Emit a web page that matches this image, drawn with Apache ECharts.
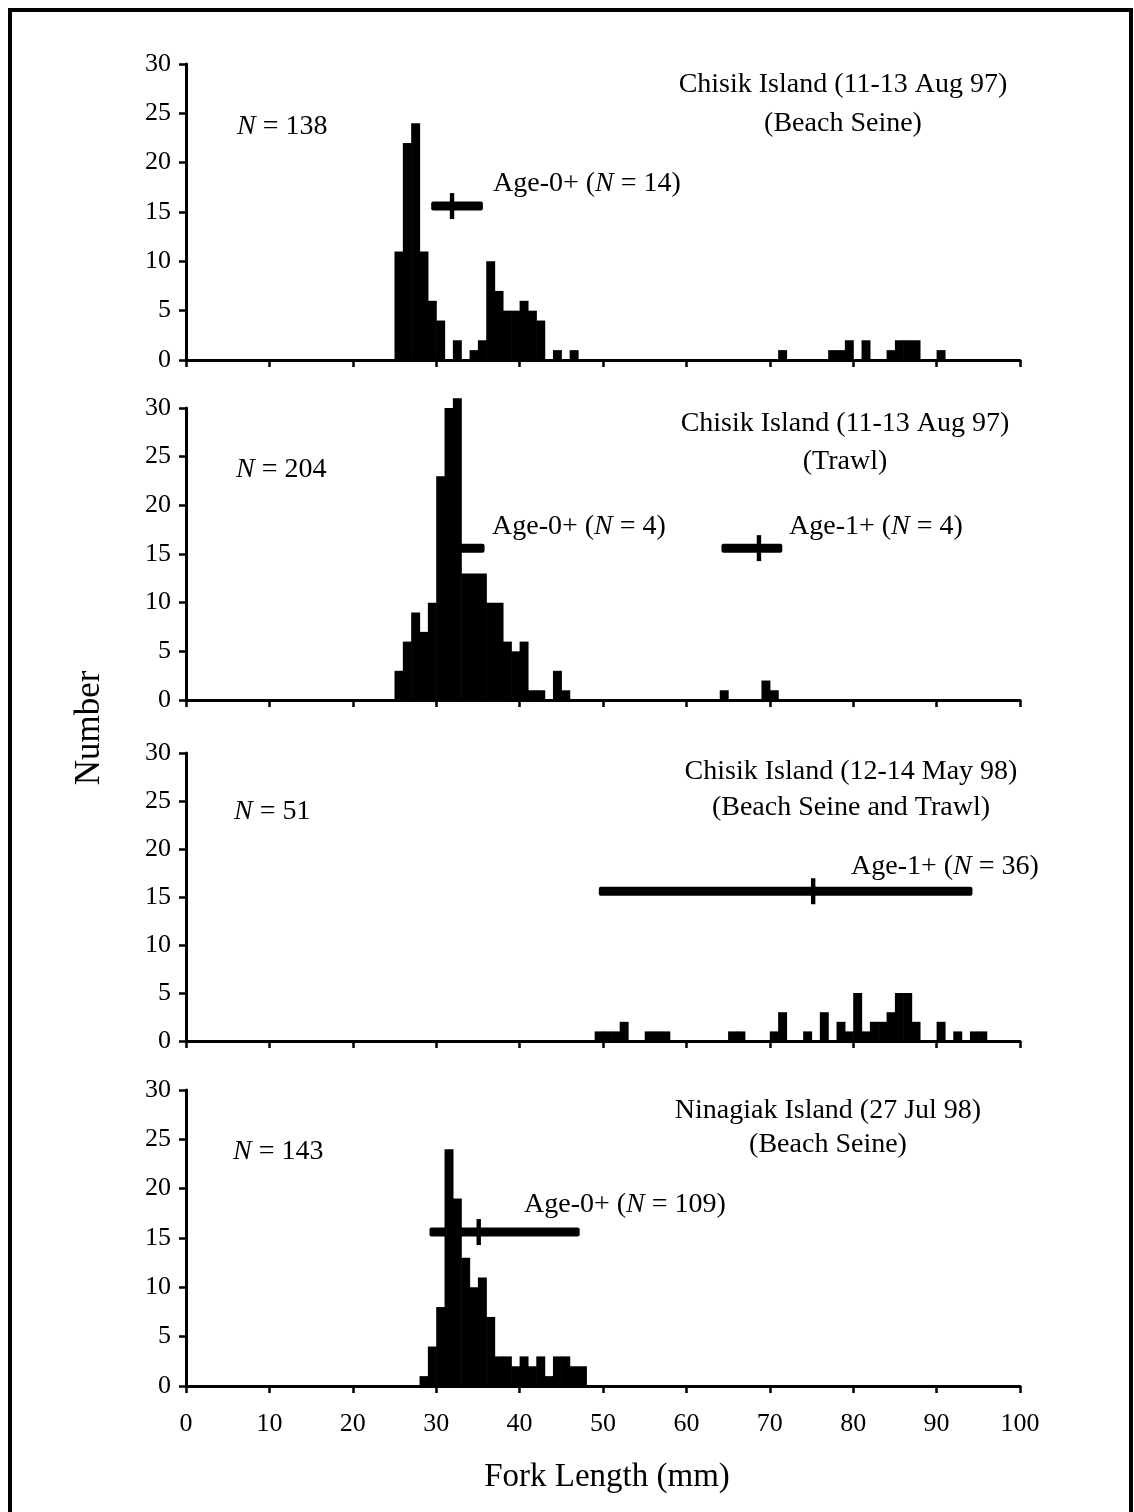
<!DOCTYPE html>
<html>
<head>
<meta charset="utf-8">
<script src="https://cdn.jsdelivr.net/npm/echarts@6/dist/echarts.min.js"></script>
<style>
  html, body { margin: 0; padding: 0; background: #fff; }
  #chart { width: 1134px; height: 1512px; }
</style>
</head>
<body>
<div id="chart"></div>
<script>
// ---- Data (fork length bins in mm, 1 mm wide; counts) ----
const p1Len = [25,26,27,28,29,30,32,34,35,36,37,38,39,40,41,42,44,46,71,77,78,79,81,84,85,86,87,90];
const p1Cnt = [11,22,24,11,6,4,2,1,2,10,7,5,5,6,5,4,1,1,1,1,1,2,2,1,2,2,2,1];

const p2Len = [25,26,27,28,29,30,31,32,33,34,35,36,37,38,39,40,41,42,44,45,64,69,70];
const p2Cnt = [3,6,9,7,10,23,30,31,13,13,13,10,10,6,5,6,1,1,3,1,1,2,1];

const p3Len = [49,50,51,52,55,56,57,65,66,70,71,74,76,78,79,80,81,82,83,84,85,86,87,90,92,94,95];
const p3Cnt = [1,1,1,2,1,1,1,1,1,1,3,1,3,2,1,5,1,2,2,3,5,5,2,2,1,1,1];

const p4Len = [28,29,30,31,32,33,34,35,36,37,38,39,40,41,42,43,44,45,46,47];
const p4Cnt = [1,4,8,24,19,13,10,11,7,3,3,2,3,2,3,1,3,3,2,2];

// Age-class range markers: [min, mean, max] (mm)
const p1Age0 = [29.4, 31.9, 35.6];
const p2Age0 = [30.5, 32.5, 35.8];
const p2Age1 = [64.2, 68.7, 71.5];
const p3Age1 = [49.5, 75.2, 94.3];
const p4Age0 = [29.2, 35.1, 47.2];
const markerLevel = 15.6;

// Tick labels
const xTicks = [0,10,20,30,40,50,60,70,80,90,100];
const yTicks = [0,5,10,15,20,25,30];

const panelTitles = [
  ['Chisik Island (11-13 Aug 97)', '(Beach Seine)'],
  ['Chisik Island (11-13 Aug 97)', '(Trawl)'],
  ['Chisik Island (12-14 May 98)', '(Beach Seine and Trawl)'],
  ['Ninagiak Island (27 Jul 98)', '(Beach Seine)']
];
const panelN = ['138', '204', '51', '143'];

// ---- Chart ----
const FONT = '"Liberation Serif", "Times New Roman", serif';
const chart = echarts.init(document.getElementById('chart'), null, {renderer: 'canvas'});

const tops = [64, 408, 753, 1090];
const bottoms = [360, 700, 1041, 1386];
const grids = tops.map((t, i) => ({left: 186, right: 114, top: t, height: bottoms[i] - t}));

const xAxes = grids.map((g, i) => ({
  type: 'value', gridIndex: i, min: 0, max: 100, interval: 10,
  axisLine: {show: true, onZero: false, lineStyle: {color: '#000', width: 3}},
  axisTick: {show: true, inside: false, length: 7, lineStyle: {color: '#000', width: 2.5}},
  axisLabel: {show: i === 3, color: '#000', fontFamily: FONT, fontSize: 26, margin: 25,
    formatter: v => xTicks.indexOf(v) >= 0 ? String(v) : ''},
  splitLine: {show: false}
}));
const yAxes = grids.map((g, i) => ({
  type: 'value', gridIndex: i, min: 0, max: 30, interval: 5,
  axisLine: {show: true, lineStyle: {color: '#000', width: 3}},
  axisTick: {show: true, inside: false, length: 7, lineStyle: {color: '#000', width: 2.5}},
  axisLabel: {show: true, color: '#000', fontFamily: FONT, fontSize: 26, margin: 15,
    formatter: v => yTicks.indexOf(v) >= 0 ? String(v) : ''},
  splitLine: {show: false}
}));

function histSeries(idx, len, cnt) {
  return {
    type: 'custom', xAxisIndex: idx, yAxisIndex: idx, clip: false,
    data: len.map((l, k) => [l, cnt[k]]),
    renderItem: function (params, api) {
      const x = api.value(0), y = api.value(1);
      const a = api.coord([x, 0]);
      const b = api.coord([x + 1, y]);
      return {type: 'rect',
        shape: {x: a[0], y: b[1], width: b[0] - a[0] + 0.6, height: a[1] - b[1]},
        style: {fill: '#000'}};
    },
    silent: true, z: 3
  };
}
function markerSeries(idx, rng) {
  return {
    type: 'custom', xAxisIndex: idx, yAxisIndex: idx, clip: false,
    data: [[rng[0], rng[1], rng[2], markerLevel]],
    renderItem: function (params, api) {
      const lo = api.coord([api.value(0), api.value(3)]);
      const mid = api.coord([api.value(1), api.value(3)]);
      const hi = api.coord([api.value(2), api.value(3)]);
      return {type: 'group', children: [
        {type: 'rect', shape: {x: lo[0], y: lo[1] - 4.5, width: hi[0] - lo[0], height: 9, r: 2}, style: {fill: '#000'}},
        {type: 'rect', shape: {x: mid[0] - 2.2, y: mid[1] - 13, width: 4.4, height: 26}, style: {fill: '#000'}}
      ]};
    },
    silent: true, z: 4
  };
}

const series = [
  histSeries(0, p1Len, p1Cnt), markerSeries(0, p1Age0),
  histSeries(1, p2Len, p2Cnt), markerSeries(1, p2Age0), markerSeries(1, p2Age1),
  histSeries(2, p3Len, p3Cnt), markerSeries(2, p3Age1),
  histSeries(3, p4Len, p4Cnt), markerSeries(3, p4Age0)
];

function txt(x, y, str, align, size, rich) {
  return {type: 'text', x: x, y: y, z: 10, silent: true,
    style: {text: str, fill: '#000', fontFamily: FONT, fontSize: size || 28,
      align: align || 'left', verticalAlign: 'middle', rich: rich}};
}
const ital = {n: {fontStyle: 'italic', fontFamily: FONT, fontSize: 28, fill: '#000'}};

const titleX = [843, 845, 851, 828];
const titleY1 = [85, 424, 772, 1111];
const titleY2 = [124, 462, 808, 1145];
const nX = [237, 236, 234, 233];
const nY = [127, 470, 812, 1152];

const graphics = [
  {type: 'rect', shape: {x: 10, y: 10, width: 1121, height: 1600}, style: {fill: 'none', stroke: '#000', lineWidth: 4}, z: 20, silent: true},
  {type: 'text', x: 90, y: 728, rotation: Math.PI / 2, z: 10, silent: true,
    style: {text: 'Number', fill: '#000', fontFamily: FONT, fontSize: 35, align: 'center', verticalAlign: 'middle'}},
  txt(607, 1477, 'Fork Length (mm)', 'center', 33)
];
for (let i = 0; i < 4; i++) {
  graphics.push(txt(titleX[i], titleY1[i], panelTitles[i][0], 'center'));
  graphics.push(txt(titleX[i], titleY2[i], panelTitles[i][1], 'center'));
  graphics.push(txt(nX[i], nY[i], '{n|N} = ' + panelN[i], 'left', 28, ital));
}
graphics.push(txt(493, 184, 'Age-0+ ({n|N} = 14)', 'left', 28, ital));
graphics.push(txt(492, 527, 'Age-0+ ({n|N} = 4)', 'left', 28, ital));
graphics.push(txt(789, 527, 'Age-1+ ({n|N} = 4)', 'left', 28, ital));
graphics.push(txt(851, 867, 'Age-1+ ({n|N} = 36)', 'left', 28, ital));
graphics.push(txt(524, 1205, 'Age-0+ ({n|N} = 109)', 'left', 28, ital));

chart.setOption({
  backgroundColor: '#fff',
  animation: false,
  grid: grids,
  xAxis: xAxes,
  yAxis: yAxes,
  series: series,
  graphic: graphics
});
</script>
</body>
</html>
